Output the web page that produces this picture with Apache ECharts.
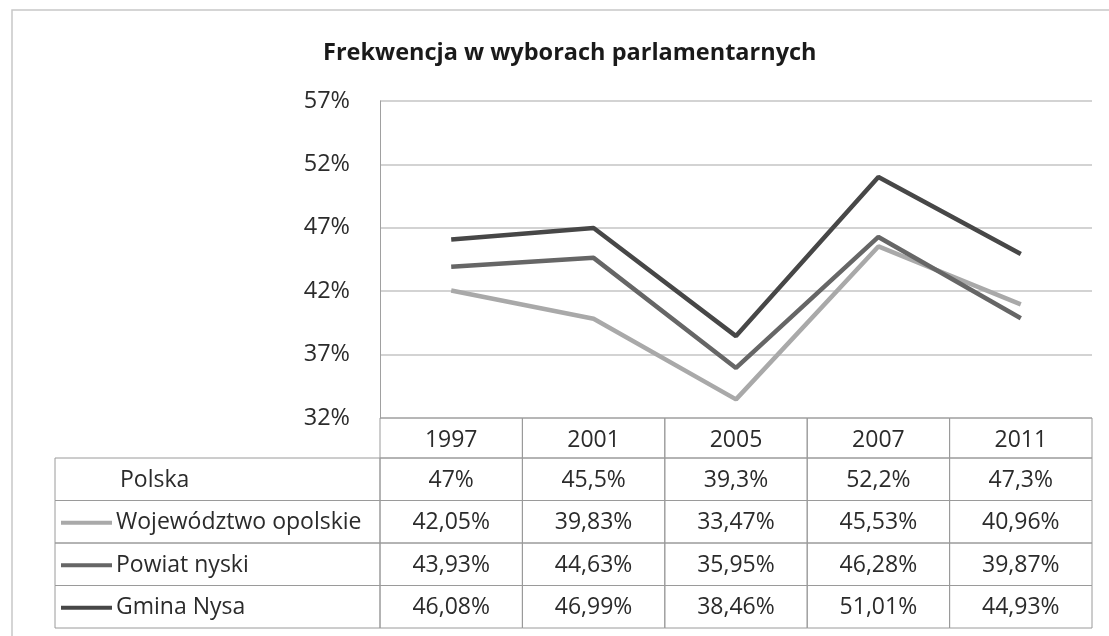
<!DOCTYPE html>
<html>
<head>
<meta charset="utf-8">
<script src="https://cdn.jsdelivr.net/npm/echarts@6/dist/echarts.min.js"></script>
<style>
  html, body { margin: 0; padding: 0; background: #fff; }
  #chart { width: 1109px; height: 636px; }
</style>
</head>
<body>
<div id="chart"></div>
<script>
const years = ['1997', '2001', '2005', '2007', '2011'];
const polska = [47, 45.5, 39.3, 52.2, 47.3];
const wojewodztwo = [42.05, 39.83, 33.47, 45.53, 40.96];
const powiat = [43.93, 44.63, 35.95, 46.28, 39.87];
const gmina = [46.08, 46.99, 38.46, 51.01, 44.93];
const rowNames = ['Polska', 'Województwo opolskie', 'Powiat nyski', 'Gmina Nysa'];
const yMin = 32, yMax = 57, yStep = 5;
const titleText = 'Frekwencja w wyborach parlamentarnych';

const FONT = 'Open Sans';
const colors = { woj: '#a9a9a9', pow: '#666666', gm: '#474747' };
const rowColors = [null, colors.woj, colors.pow, colors.gm];
const rowValues = [polska, wojewodztwo, powiat, gmina];
const fmt = v => String(v).replace('.', ',') + '%';

const chart = echarts.init(document.getElementById('chart'), null, { renderer: 'canvas' });

function renderTable(params, api) {
  const i = params.dataIndex;
  const base = api.coord([i, yMin]);
  const cx = base[0], top = base[1];
  const bw = api.size([1, 0])[0];
  const x0 = cx - bw / 2;
  const headerH = 40, rowH = 42.5;
  const lineStyle = { fill: 'none', stroke: '#9a9a9a', lineWidth: 1 };
  const textBase = { fontFamily: FONT, fontSize: 23, fill: '#2b2b2b', align: 'center', verticalAlign: 'middle' };
  const children = [];
  children.push({ type: 'rect', shape: { x: x0, y: top, width: bw, height: headerH }, style: lineStyle });
  children.push({ type: 'text', style: Object.assign({ text: years[i], x: cx, y: top + headerH / 2 + 2 }, textBase) });
  for (let r = 0; r < rowValues.length; r++) {
    const y = top + headerH + r * rowH;
    children.push({ type: 'rect', shape: { x: x0, y: y, width: bw, height: rowH }, style: lineStyle });
    children.push({ type: 'text', style: Object.assign({ text: fmt(rowValues[r][i]), x: cx, y: y + rowH / 2 + 1 }, textBase) });
  }
  if (i === 0) {
    const left = 55;
    for (let r = 0; r < rowNames.length; r++) {
      const y = top + headerH + r * rowH;
      children.push({ type: 'rect', shape: { x: left, y: y, width: x0 - left, height: rowH }, style: lineStyle });
      if (rowColors[r]) {
        children.push({ type: 'line', shape: { x1: left + 6, y1: y + rowH / 2 + 1, x2: left + 57, y2: y + rowH / 2 + 1 }, style: { stroke: rowColors[r], lineWidth: 4 } });
        children.push({ type: 'text', style: Object.assign({}, textBase, { text: rowNames[r], x: left + 61, y: y + rowH / 2 + 1, align: 'left' }) });
      } else {
        children.push({ type: 'text', style: Object.assign({}, textBase, { text: rowNames[r], x: left + 65, y: y + rowH / 2 + 1, align: 'left' }) });
      }
    }
  }
  return { type: 'group', children: children };
}

const lineSeries = (name, data, color) => ({
  name: name,
  type: 'line',
  data: data,
  symbol: 'none',
  lineStyle: { color: color, width: 4.5 },
  itemStyle: { color: color },
  z: 3
});

chart.setOption({
  animation: false,
  backgroundColor: '#fff',
  title: {
    text: titleText,
    left: 318,
    top: 36,
    textStyle: { fontFamily: FONT, fontSize: 23.5, fontWeight: 'bold', color: '#1a1a1a' }
  },
  graphic: [{
    type: 'rect',
    shape: { x: 12, y: 10, width: 1120, height: 660 },
    style: { fill: 'none', stroke: '#c8c8c8', lineWidth: 1.5 },
    silent: true,
    z: -1
  }],
  grid: { left: 380, right: 17, top: 101, bottom: 218, containLabel: false },
  xAxis: {
    type: 'category',
    data: years,
    boundaryGap: true,
    axisLine: { show: false },
    axisTick: { show: false },
    axisLabel: { show: false },
    splitLine: { show: false }
  },
  yAxis: {
    type: 'value',
    min: yMin,
    max: yMax,
    interval: yStep,
    axisLine: { show: true, lineStyle: { color: '#a0a0a0', width: 1 } },
    axisTick: { show: false },
    axisLabel: { formatter: '{value}%', fontFamily: FONT, fontSize: 23.5, color: '#2b2b2b', margin: 30 },
    splitLine: { show: true, lineStyle: { color: '#c4c4c4', width: 1.5 } }
  },
  series: [
    lineSeries('Województwo opolskie', wojewodztwo, colors.woj),
    lineSeries('Powiat nyski', powiat, colors.pow),
    lineSeries('Gmina Nysa', gmina, colors.gm),
    {
      name: 'table',
      type: 'custom',
      data: years.map((_, i) => [i, yMin]),
      encode: { x: 0, y: 1 },
      renderItem: renderTable,
      clip: false,
      silent: true,
      z: 1
    }
  ]
});
</script>
</body>
</html>
